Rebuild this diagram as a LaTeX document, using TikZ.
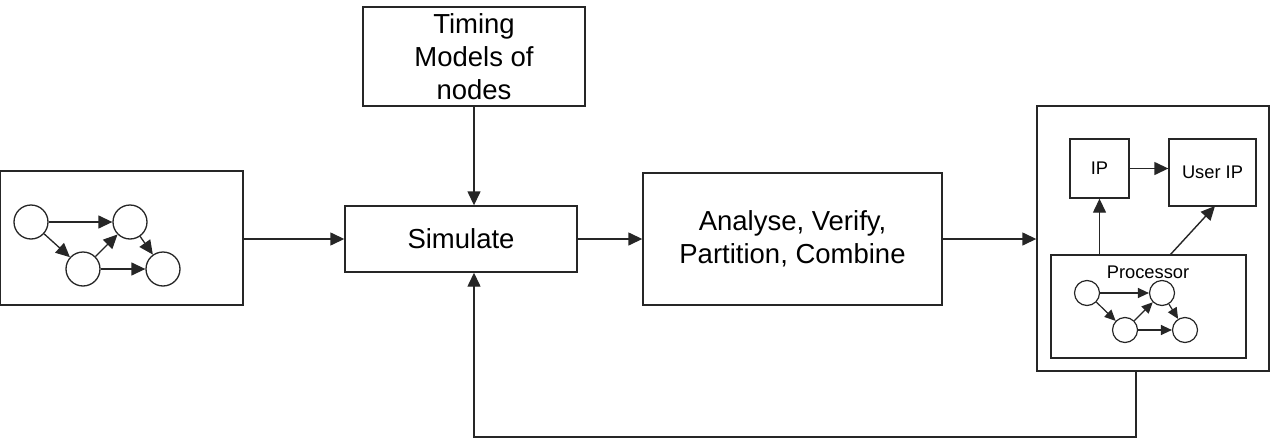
\documentclass[tikz,border=0pt]{standalone}
\usepackage{fontspec}
\setmainfont{Liberation Sans}
\usetikzlibrary{arrows.meta,positioning,calc}
\begin{document}
\begin{tikzpicture}[x=1pt,y=-1pt,
  line/.style={draw=black!85, line width=1.4pt},
  box/.style={line, rectangle, inner sep=0pt, fill=white},
  arr/.style={line, -{Triangle[length=14pt,width=13pt]}},
  sarr/.style={line, line width=1.3pt, -{Triangle[length=14pt,width=13pt]}},
  tarr/.style={line, line width=1.2pt, -{Triangle[length=11pt,width=10pt]}},
  big/.style={font=\fontsize{27.5}{33}\selectfont, align=center},
  small/.style={font=\fontsize{18.3}{22}\selectfont},
  circ/.style={line, line width=1.3pt, circle, minimum size=34pt, inner sep=0pt},
  tcirc/.style={line, line width=1.2pt, circle, minimum size=25pt, inner sep=0pt}]
\useasboundingbox (0,0) rectangle (1273,444);
% boxes
\node[box, minimum width=243pt, minimum height=134pt] (input) at (121.5,238) {};
\node[box, minimum width=232pt, minimum height=66pt, big] (sim) at (461,239) {Simulate};
\node[box, minimum width=222pt, minimum height=99pt, big] (timing) at (474,56.5) {Timing\\Models of\\nodes};
\node[box, minimum width=299pt, minimum height=132pt, big] (ana) at (792.5,239) {Analyse, Verify,\\Partition, Combine};
\node[box, minimum width=232pt, minimum height=265pt] (rbox) at (1153,238.5) {};
\node[box, minimum width=59pt, minimum height=59pt, small] (ip) at (1099.5,168.5) {IP};
\node[box, minimum width=87pt, minimum height=67pt, small] (uip) at (1212.5,172.5) {User IP};
\node[box, minimum width=195pt, minimum height=103pt] (proc) at (1148.5,306.5) {};
\node[small] (plabel) at (1148,272) {Processor};
% graph in input
\node[circ] (a1) at (31,222) {};
\node[circ] (a2) at (130,222) {};
\node[circ] (a3) at (83,269) {};
\node[circ] (a4) at (163,269) {};
\draw[sarr] (a1) -- (a2);
\draw[sarr] (a1) -- (a3);
\draw[sarr] (a3) -- (a2);
\draw[sarr] (a2) -- (a4);
\draw[sarr] (a3) -- (a4);
% graph in processor
\node[tcirc] (b1) at (1087,293) {};
\node[tcirc] (b2) at (1162,293) {};
\node[tcirc] (b3) at (1125,330) {};
\node[tcirc] (b4) at (1185,330) {};
\draw[tarr] (b1) -- (b2);
\draw[tarr] (b1) -- (b3);
\draw[tarr] (b3) -- (b2);
\draw[tarr] (b2) -- (b4);
\draw[tarr] (b3) -- (b4);
% main connectors
\draw[arr] (input.east |- sim.west) -- (sim.west);
\draw[arr] (sim.east) -- (ana.west);
\draw[arr] (ana.east) -- (rbox.west |- ana.east);
\draw[arr] (timing.south) -- (timing.south |- sim.north);
\coordinate (fb) at (1136,437);
\draw[arr] (fb |- rbox.south) -- (fb) -| (timing.south |- sim.south);
% inside right box
\draw[arr] (ip.east) -- (ip.east -| uip.west);
\coordinate (pu) at (1170,255);
\coordinate (ue) at (1215,206);
\draw[arr] (pu) -- (ue);
\draw[arr] (ip.south |- proc.north) -- (ip.south);
\end{tikzpicture}
\end{document}
